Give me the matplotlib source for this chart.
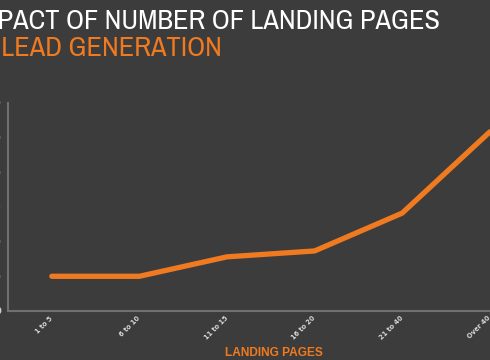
import matplotlib
matplotlib.use("Agg")
import matplotlib.pyplot as plt
from matplotlib import font_manager
from matplotlib.transforms import ScaledTranslation

categories = ["1 to 5", "6 to 10", "11 to 15", "16 to 20", "21 to 40", "Over 40"]
values = [10, 10, 15.6, 17.3, 28.2, 51.6]
yticks = [0, 10, 20, 30, 40, 50, 60]
title1 = "IMPACT OF NUMBER OF LANDING PAGES"
title2 = "ON LEAD GENERATION"
xlabel = "LANDING PAGES"

BG = "#3c3c3c"
ORANGE = "#f07a20"

names = {f.name for f in font_manager.fontManager.ttflist}
title_font = "Liberation Sans"
for cand in ["Archivo Narrow", "Roboto Condensed", "PT Sans Narrow", "Liberation Sans Narrow"]:
    if cand in names:
        title_font = cand
        break

W, H = 490, 360
fig = plt.figure(figsize=(W / 100, H / 100), dpi=100, facecolor=BG)

ax = fig.add_axes([8 / W, (H - 311) / H, 6 * 87.6 / W, (311 - 102.7) / H])
ax.set_facecolor(BG)
x = list(range(len(categories)))
ax.plot(x, values, color=ORANGE, lw=3.8, solid_capstyle="round", solid_joinstyle="round", clip_on=False)
ax.set_xlim(-0.5, len(categories) - 0.5)
ax.set_ylim(0, 60)
ax.set_yticks(yticks)
ax.set_yticklabels([str(v) for v in yticks], color="#d0d0d0", fontsize=6, fontweight="bold")
ax.set_xticks(x)
ax.set_xticklabels(categories, rotation=45, ha="right", va="center", rotation_mode="anchor",
                   color="#d8d8d8", fontsize=4.8, fontweight="bold")
shift = ScaledTranslation(3 / 100, 0, fig.dpi_scale_trans)
for lab in ax.get_xticklabels():
    lab.set_transform(lab.get_transform() + shift)
ax.tick_params(axis="both", length=0)
ax.tick_params(axis="y", pad=5)
ax.tick_params(axis="x", pad=4.5)
for s in ["top", "right"]:
    ax.spines[s].set_visible(False)
for s in ["left", "bottom"]:
    ax.spines[s].set_color("#707070")
    ax.spines[s].set_linewidth(1.5)

renderer = fig.canvas.get_renderer()

def text_w(s, size, family, weight):
    t = fig.text(0, 0, s, fontsize=size, family=family, fontweight=weight)
    w = t.get_window_extent(renderer).width
    t.remove()
    return w

xl_size = 10 * 98 / text_w(xlabel, 10, "Liberation Sans", "bold")
fig.text(274 / W, 1 - 356 / H, xlabel, color=ORANGE, fontsize=xl_size, fontweight="bold",
         family="Liberation Sans", ha="center", va="baseline")

tsize = 20
vis1 = "PACT OF NUMBER OF LANDING PAGES"
tsize = tsize * 443 / text_w(vis1, tsize, title_font, "medium")
off1 = text_w(title1, tsize, title_font, "medium") - text_w(vis1, tsize, title_font, "medium")
off2 = text_w(title2, tsize, title_font, "medium") - text_w("LEAD GENERATION", tsize, title_font, "medium")
fig.text((-off1 - 2) / W, 1 - 29 / H, title1, color="white", fontsize=tsize, family=title_font,
         fontweight="medium", ha="left", va="baseline")
fig.text((-off2 + 1) / W, 1 - 56 / H, title2, color=ORANGE, fontsize=tsize, family=title_font,
         fontweight="medium", ha="left", va="baseline")

fig.savefig("out.png", dpi=100, facecolor=BG)
